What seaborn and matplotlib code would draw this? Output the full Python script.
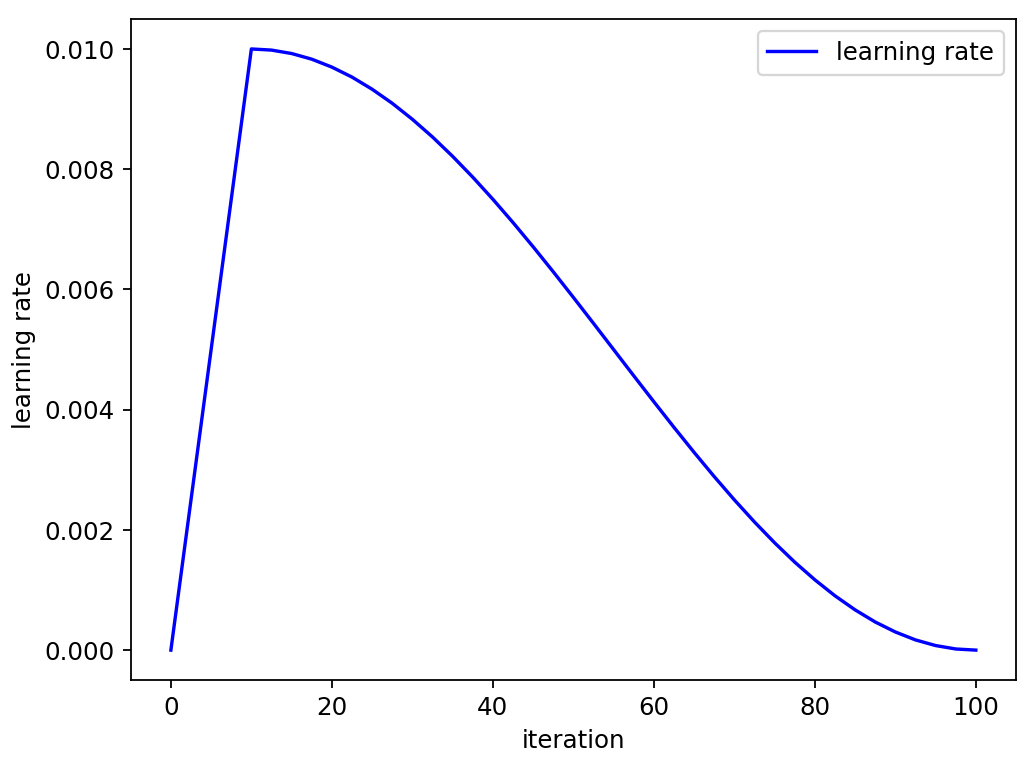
import matplotlib
matplotlib.use('Agg')
import matplotlib.pyplot as plt
import pandas as pd
import seaborn as sns

# values
iteration = [0, 10, 12.5, 15, 17.5, 20, 22.5, 25, 27.5, 30, 32.5, 35, 37.5, 40,
             42.5, 45, 47.5, 50, 52.5, 55, 57.5, 60, 62.5, 65, 67.5, 70, 72.5,
             75, 77.5, 80, 82.5, 85, 87.5, 90, 92.5, 95, 97.5, 100]
lr = [0.0, 0.01, 0.009981, 0.009924, 0.009830, 0.009698, 0.009532, 0.009330,
      0.009096, 0.008830, 0.008536, 0.008214, 0.007868, 0.0075, 0.007113,
      0.006710, 0.006294, 0.005868, 0.005436, 0.005, 0.004564, 0.004132,
      0.003706, 0.003290, 0.002887, 0.0025, 0.002132, 0.001786, 0.001464,
      0.001170, 0.000904, 0.000670, 0.000468, 0.000302, 0.000170, 0.000076,
      0.000019, 0.0]

df = pd.DataFrame({'iteration': iteration, 'learning rate': lr})

plt.rcParams['font.size'] = 10.9
fig, ax = plt.subplots(figsize=(6.4, 4.73), dpi=162)
fig.subplots_adjust(left=0.126, right=0.98, top=0.975, bottom=0.112)
sns.lineplot(data=df, x='iteration', y='learning rate', color='blue',
             label='learning rate', ax=ax)
ax.set_xlabel('iteration')
ax.set_ylabel('learning rate')
ax.legend(loc='upper right')
plt.savefig('out.png')
